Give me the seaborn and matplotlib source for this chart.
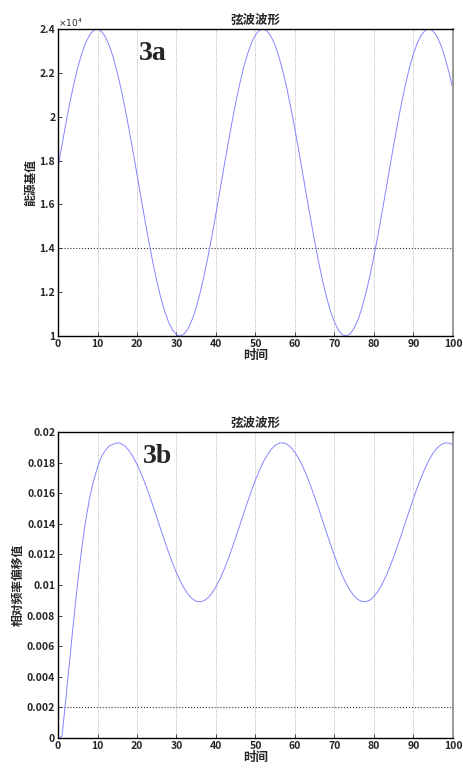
import matplotlib
matplotlib.use("Agg")
import matplotlib.pyplot as plt
from matplotlib.ticker import FuncFormatter
import seaborn as sns
import pandas as pd

# time axis (shared by both panels)
time_steps = list(range(0, 101))

# panel 3a: base value (x 10^4)
base_values = [
    17680, 18710, 19700, 20640, 21490, 22240, 22870, 23370, 23730, 23940,
    24000, 23900, 23640, 23240, 22690, 22020, 21240, 20360, 19410, 18400,
    17370, 16320, 15290, 14300, 13360, 12510, 11760, 11130, 10630, 10270,
    10060, 10000, 10100, 10360, 10760, 11310, 11980, 12760, 13640, 14590,
    15600, 16630,
    17680, 18710, 19700, 20640, 21490, 22240, 22870, 23370, 23730, 23940,
    24000, 23900, 23640, 23240, 22690, 22020, 21240, 20360, 19410, 18400,
    17370, 16320, 15290, 14300, 13360, 12510, 11760, 11130, 10630, 10270,
    10060, 10000, 10100, 10360, 10760, 11310, 11980, 12760, 13640, 14590,
    15600, 16630,
    17680, 18710, 19700, 20640, 21490, 22240, 22870, 23370, 23730, 23940,
    24000, 23900, 23640, 23240, 22690, 22020, 21240,
]

# panel 3b: relative deviation
deviation_values = [
    0.0, 0.0001, 0.0026, 0.0052, 0.0078, 0.0102, 0.0124, 0.0142, 0.0157, 0.0168,
    0.0177, 0.0184, 0.0188, 0.0191, 0.0192, 0.01930, 0.01924, 0.01907, 0.01878, 0.01838,
    0.01789, 0.01731, 0.01667, 0.01596, 0.01521, 0.01443, 0.01365, 0.01288, 0.01213, 0.01143,
    0.01079, 0.01023, 0.00975, 0.00937, 0.00910, 0.00894, 0.00890, 0.00898, 0.00917, 0.00948,
    0.00988, 0.01039, 0.01098, 0.01164, 0.01235, 0.01311, 0.01388, 0.01467, 0.01544, 0.01618,
    0.01687, 0.01750, 0.01805, 0.01851, 0.01888, 0.01913, 0.01927, 0.01929, 0.01920, 0.01899,
    0.01867, 0.01825, 0.01773, 0.01713, 0.01646, 0.01574, 0.01498, 0.01420, 0.01342, 0.01265,
    0.01192, 0.01123, 0.01061, 0.01008, 0.00963, 0.00928, 0.00904, 0.00892, 0.00891, 0.00902,
    0.00925, 0.00959, 0.01003, 0.01056, 0.01117, 0.01185, 0.01258, 0.01334, 0.01412, 0.01490,
    0.01566, 0.01639, 0.01706, 0.01767, 0.01820, 0.01863, 0.01896, 0.01918, 0.01929, 0.01928,
    0.01915,
]

x_ticks = [0, 10, 20, 30, 40, 50, 60, 70, 80, 90, 100]
a_ticks = [10000, 12000, 14000, 16000, 18000, 20000, 22000, 24000]
b_ticks = [0, 0.002, 0.004, 0.006, 0.008, 0.01, 0.012, 0.014, 0.016, 0.018, 0.02]

title_text = "弦波波形"
xlabel_text = "时间"
a_ylabel = "能源基值"
b_ylabel = "相对频率偏移值"

sns.set_style("ticks")
plt.rcParams["font.family"] = ["Noto Sans CJK SC", "DejaVu Sans"]

fig = plt.figure(figsize=(4.63, 7.69), dpi=100)
ax_a = fig.add_axes([0.1253, 0.5631, 0.853, 0.3992])
ax_b = fig.add_axes([0.1253, 0.0403, 0.853, 0.3979])

line_color = "#8585ff"

df_a = pd.DataFrame({"t": time_steps, "v": base_values})
df_b = pd.DataFrame({"t": time_steps, "v": deviation_values})
sns.lineplot(data=df_a, x="t", y="v", ax=ax_a, color=line_color, lw=0.7)
sns.lineplot(data=df_b, x="t", y="v", ax=ax_b, color=line_color, lw=0.7)


def style_panel(ax, yticks, ylims, ylabel, hline, fmt):
    ax.set_xlim(0, 100)
    ax.set_ylim(*ylims)
    ax.set_xticks(x_ticks)
    ax.set_yticks(yticks)
    ax.yaxis.set_major_formatter(FuncFormatter(fmt))
    ax.xaxis.set_major_formatter(FuncFormatter(lambda v, p: f"{v:g}"))
    for xt in x_ticks[1:-1]:
        ax.axvline(xt, color="#a0a0a0", lw=0.6, ls=":", zorder=0)
    ax.axhline(hline, color="#333333", lw=0.8, ls=":", zorder=0)
    ax.tick_params(direction="in", length=3, width=0.6, labelsize=7.5, pad=2)
    for lab in ax.get_xticklabels() + ax.get_yticklabels():
        lab.set_fontweight("bold")
    for side in ("left", "bottom", "top"):
        ax.spines[side].set_color("black")
        ax.spines[side].set_linewidth(1.0)
    ax.spines["right"].set_color("#999999")
    ax.spines["right"].set_linewidth(1.4)
    ax.set_title(title_text, fontsize=9, fontweight="bold", pad=4)
    ax.set_xlabel(xlabel_text, fontsize=9, fontweight="bold", labelpad=0)
    ax.set_ylabel(ylabel, fontsize=8.5, fontweight="bold", labelpad=2)


style_panel(ax_a, a_ticks, (10000, 24000), a_ylabel, 14000,
            lambda v, p: f"{v / 1e4:g}")
style_panel(ax_b, b_ticks, (0, 0.02), b_ylabel, 0.002,
            lambda v, p: f"{v:g}")

ax_a.text(0.0, 1.0, r"$\times10^{4}$", transform=ax_a.transAxes,
          fontsize=6.5, fontweight="bold", ha="left", va="bottom",
          family="DejaVu Sans")

ax_a.text(20.5, 22900, "3a", fontsize=20, fontweight="bold",
          family="Liberation Serif", ha="left", va="center")
ax_b.text(21.5, 0.01837, "3b", fontsize=20, fontweight="bold",
          family="Liberation Serif", ha="left", va="center")

fig.savefig("out.png", dpi=100)
